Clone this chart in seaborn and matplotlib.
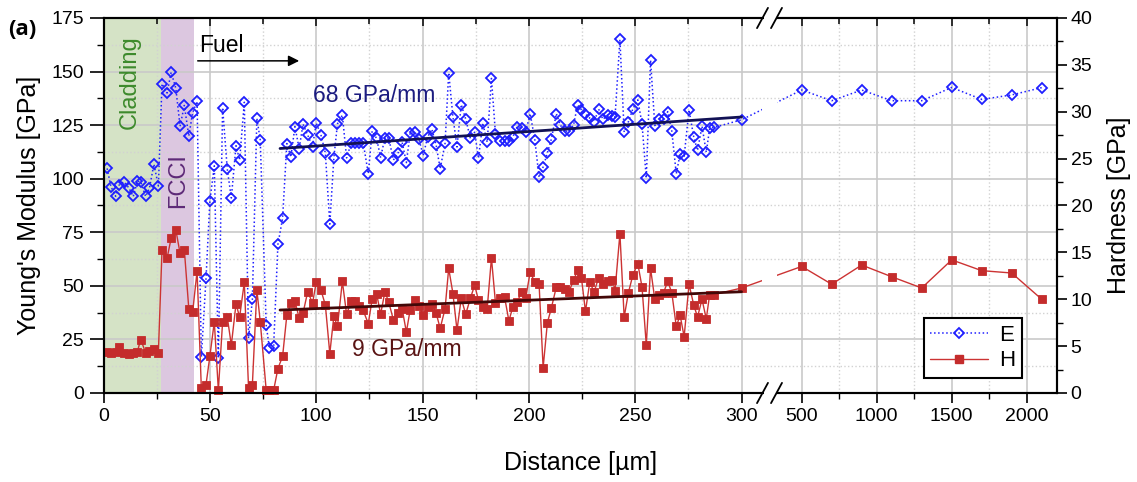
import numpy as np
import pandas as pd
import matplotlib
matplotlib.use("Agg")
import matplotlib.pyplot as plt
import seaborn as sns
from matplotlib.ticker import FixedLocator, MultipleLocator, FuncFormatter
from matplotlib.patches import Rectangle
from matplotlib.lines import Line2D

# ---------------- data ----------------
distance = [
    1.7, 3.5, 5.7, 7.2, 9.6, 12.0, 14.0, 15.9, 17.5, 19.8, 21.6, 23.7, 25.8,
    27.5, 29.9, 31.8, 34.0, 36.0, 38.0, 40.1, 41.9, 44.0,
    46.0, 48.2, 50.0, 52.1, 54.0, 56.0, 58.2, 60.1, 62.3, 64.0,
    66.2, 68.2, 70.0, 72.1, 73.7, 76.5, 78.0, 80.0, 82.0, 84.2,
    86.2, 88.1, 90.0, 92.0, 93.8, 96.0, 98.3, 100.0, 102.2, 104.3,
    106.4, 108.3, 110.0, 112.3, 114.3, 116.5, 118.4, 120.2, 122.1, 124.5,
    126.3, 128.4, 130.3, 132.3, 134.1, 136.3, 138.4, 140.4, 142.4, 144.2,
    146.3, 148.3, 150.3, 152.4, 154.4, 156.4, 158.3, 160.6, 162.3, 164.3,
    166.2, 168.2, 170.3, 172.5, 174.5, 176.3, 178.3, 180.4, 182.4, 184.3,
    186.5, 188.6, 190.6, 192.5, 194.5, 196.6, 198.5, 200.6, 202.8, 204.8,
    206.7, 208.7, 210.6, 212.9, 214.8, 216.8, 218.8, 221.0, 222.9, 224.7,
    226.6, 228.6, 230.7, 232.8, 234.8, 237.0, 239.3, 240.5, 242.8, 244.8,
    246.8, 248.9, 251.2, 253.2, 255.2, 257.2, 259.2, 261.2, 263.3, 265.3,
    267.2, 269.3, 271.1, 273.0, 275.3, 277.5, 279.3, 281.4, 283.4, 285.0,
    287.0, 300.0,
    500, 700, 900, 1100, 1300, 1500, 1700, 1900, 2100,
]

youngs_modulus = [
    104.8, 96.3, 91.8, 96.9, 98.6, 95.6, 91.7, 98.8, 98.6, 91.7, 95.6, 106.8, 96.6,
    144.3, 140.0, 149.7, 142.2, 124.5, 134.2, 119.9, 130.7, 136.1,
    16.8, 53.5, 89.6, 106.0, 16.2, 133.2, 104.4, 91.0, 115.4, 108.7,
    135.7, 25.5, 43.7, 128.2, 118.1, 31.7, 20.9, 22.0, 69.3, 81.5,
    116.4, 110.1, 124.3, 114.0, 125.5, 120.4, 115.0, 126.0, 120.6, 112.0,
    78.8, 109.7, 125.6, 129.7, 109.7, 116.8, 116.8, 116.8, 116.8, 102.3,
    122.2, 118.8, 109.8, 119.2, 119.0, 108.7, 111.8, 117.0, 107.5, 121.4,
    121.9, 118.5, 110.8, 119.5, 123.1, 115.7, 104.6, 116.6, 149.5, 128.8,
    114.8, 134.6, 127.8, 118.8, 121.7, 109.5, 126.0, 117.0, 146.8, 120.8,
    117.5, 117.5, 117.7, 119.6, 124.3, 123.5, 121.9, 130.4, 118.1, 100.6,
    105.5, 112.0, 118.6, 130.4, 125.0, 122.2, 122.2, 125.0, 134.5, 132.2,
    130.1, 128.3, 126.6, 132.5, 127.7, 129.7, 129.3, 128.7, 165.0, 121.7,
    126.6, 132.6, 136.8, 125.6, 100.2, 155.4, 124.8, 128.0, 127.8, 131.3,
    122.2, 102.2, 111.6, 110.5, 132.1, 119.5, 113.2, 124.5, 112.3, 123.5,
    123.9, 127.5,
    141.4, 136.4, 141.4, 136.4, 136.4, 142.6, 137.0, 139.1, 142.5,
]

hardness = [
    4.4, 4.3, 4.4, 4.9, 4.3, 4.2, 4.3, 4.4, 5.7, 4.3, 4.5, 4.7, 4.3,
    15.2, 14.4, 16.5, 17.4, 14.9, 15.3, 9.0, 8.6, 13.0,
    0.5, 0.9, 3.9, 7.6, 0.3, 7.6, 8.1, 5.1, 9.5, 8.1,
    11.8, 0.5, 0.9, 11.0, 7.6, 0.3, 0.3, 0.3, 2.6, 3.9,
    8.3, 9.6, 9.8, 8.0, 8.5, 10.8, 9.6, 11.8, 11.0, 9.4,
    4.2, 8.2, 7.1, 11.9, 8.4, 9.8, 9.8, 9.3, 8.8, 7.4,
    10.0, 10.6, 8.4, 10.8, 9.7, 7.8, 8.5, 9.0, 6.5, 8.9,
    9.9, 9.3, 8.3, 9.2, 9.5, 8.5, 6.9, 9.0, 13.3, 10.6,
    6.7, 10.1, 8.4, 10.1, 11.5, 9.9, 9.2, 9.0, 14.4, 9.6,
    10.1, 10.2, 7.7, 9.2, 9.7, 10.8, 10.1, 12.9, 11.8, 11.6,
    2.7, 7.5, 9.1, 11.3, 11.3, 11.1, 10.8, 12.0, 13.1, 12.3,
    8.7, 11.8, 10.8, 12.3, 11.6, 11.9, 12.1, 10.9, 17.0, 8.1,
    10.7, 12.6, 13.8, 11.3, 5.1, 13.3, 10.0, 10.5, 10.7, 11.9,
    10.7, 7.1, 8.3, 6.0, 11.6, 9.4, 8.1, 10.0, 7.9, 10.5,
    10.5, 11.2,
    13.5, 11.6, 13.65, 12.4, 11.2, 14.2, 13.05, 12.8, 10.0,
]

# linear fits shown in the chart
fit_x = [83, 300]
fit_E = [114.1, 128.8]
fit_H = [8.85, 10.8]

# regions
cladding_span = [0, 27.0]
fcci_span = [27.0, 42.7]

x_major = [0, 50, 100, 150, 200, 250, 300, 500, 1000, 1500, 2000]
x_minor = [25, 75, 125, 175, 225, 275, 750, 1250, 1750]

df = pd.DataFrame({"Distance": distance, "E": youngs_modulus, "H": hardness})

# ---------------- styling ----------------
sns.set_theme(style="ticks")
plt.rcParams["font.family"] = ["Liberation Sans", "DejaVu Sans"]
plt.rcParams["text.color"] = "black"
plt.rcParams["axes.labelcolor"] = "black"
plt.rcParams["xtick.color"] = "black"
plt.rcParams["ytick.color"] = "black"

BLUE = "#1f1fff"
RED = "#cc3333"
E_FIT = "#121255"
H_FIT = "#420808"

fig = plt.figure(figsize=(11.37, 4.82), dpi=100)
ax = fig.add_axes([0.09103, 0.18465, 0.83835, 0.77801])

# broken x axis as a piecewise-linear scale
KX = np.array([0.0, 305.0, 400.0, 2200.0])
KO = np.array([0.0, 648.7, 683.2, 953.2])


def _pw(v, xs, ys):
    v = np.asarray(v, dtype=float)
    out = np.interp(v, xs, ys)
    s0 = (ys[1] - ys[0]) / (xs[1] - xs[0])
    s1 = (ys[-1] - ys[-2]) / (xs[-1] - xs[-2])
    out = np.where(v < xs[0], ys[0] + (v - xs[0]) * s0, out)
    out = np.where(v > xs[-1], ys[-1] + (v - xs[-1]) * s1, out)
    return out


def fwd(v):
    return _pw(v, KX, KO)


def inv(v):
    return _pw(v, KO, KX)


ax.set_xscale("function", functions=(fwd, inv))
ax.set_xlim(0, 2200)
ax.set_ylim(0, 175)
ax.xaxis.set_major_locator(FixedLocator(x_major))
ax.xaxis.set_minor_locator(FixedLocator(x_minor))
ax.xaxis.set_major_formatter(FuncFormatter(lambda v, p: f"{v:g}"))
ax.yaxis.set_major_locator(MultipleLocator(25))
ax.yaxis.set_minor_locator(MultipleLocator(12.5))

ax.set_axisbelow(True)
ax.grid(which="major", color="#c9c9c9", lw=1.2, ls="-")
ax.grid(which="minor", color="#d2d2d2", lw=1.0, ls=":")

ax.axvspan(*cladding_span, color="#d5e3c6", lw=0, zorder=0.1)
ax.axvspan(*fcci_span, color="#dcc7e0", lw=0, zorder=0.1)

ax2 = ax.twinx()
ax2.set_ylim(0, 40)
ax2.yaxis.set_major_locator(MultipleLocator(5))
ax2.yaxis.set_minor_locator(MultipleLocator(2.5))

# clip regions around the axis break
f1, f2 = 0.6908, 0.7066
for target, col, key, kws in [
    (ax, BLUE, "E", dict(linestyle=":", lw=1.1, marker="D", markersize=5.2,
                         markerfacecolor="none", markeredgecolor=BLUE,
                         markeredgewidth=1.3)),
    (ax2, RED, "H", dict(linestyle="-", lw=1.0, marker="s", markersize=5.8,
                         markerfacecolor="#c42c2c", markeredgecolor="#c42c2c",
                         markeredgewidth=0.6)),
]:
    for (c0, c1) in [(0.0, f1), (f2, 1.0)]:
        sns.lineplot(data=df, x="Distance", y=key, ax=target, sort=False,
                     estimator=None, color=col, legend=False, **kws)
        ln = target.lines[-1]
        ln.set_clip_path(Rectangle((c0, -0.05), c1 - c0, 1.1,
                                   transform=target.transAxes))

sns.lineplot(x=fit_x, y=fit_E, ax=ax, color=E_FIT, lw=2.0, legend=False)
sns.lineplot(x=fit_x, y=fit_H, ax=ax2, color=H_FIT, lw=2.0, legend=False)

# annotations
ax.text(12.5, 145, "Cladding", rotation=90, ha="center", va="center",
        fontsize=17, color="#3d8a2c")
ax.text(35.0, 99, "FCCI", rotation=90, ha="center", va="center",
        fontsize=17, color="#5e2a78")
ax.text(44.9, 162, "Fuel", ha="left", va="center", fontsize=16.5, color="black")
ax.annotate("", xy=(92, 155), xytext=(44.3, 155),
            arrowprops=dict(arrowstyle="-|>", color="black", lw=1.1,
                            mutation_scale=16, shrinkA=0, shrinkB=0))
ax.text(98.5, 139, "68 GPa/mm", ha="left", va="center", fontsize=16.5,
        color="#1c1c80")
ax.text(116.8, 20.1, "9 GPa/mm", ha="left", va="center", fontsize=16.5,
        color="#5a1414")

# axes labels
ax.set_xlabel("Distance [\u00b5m]", fontsize=18)
ax.xaxis.set_label_coords(0.5, -0.155)
ax.set_ylabel("Young's Modulus [GPa]", fontsize=18)
ax.yaxis.set_label_coords(-0.066, 0.5)
ax2.set_xlabel("")
ax2.set_ylabel("Hardness [GPa]", fontsize=18)
ax2.yaxis.set_label_coords(1.053, 0.5)

# ticks
ax.tick_params(axis="x", which="major", direction="out", length=7, width=1.2,
               labelsize=14, bottom=True, top=False, pad=4)
ax.tick_params(axis="x", which="minor", direction="out", length=4, width=1.0,
               bottom=True, top=False)
ax.tick_params(axis="y", which="major", direction="out", length=10, width=1.2,
               labelsize=14, left=True, right=False, pad=4)
ax.tick_params(axis="y", which="minor", direction="out", length=5, width=1.0,
               left=True, right=False)
ax2.tick_params(axis="y", which="major", direction="out", length=7, width=1.2,
                labelsize=14, right=True, left=False, pad=3)
ax2.tick_params(axis="y", which="minor", direction="out", length=4, width=1.0,
                right=True, left=False)
ax2.xaxis.set_visible(True)
ax2.tick_params(axis="x", which="both", direction="in", top=True, bottom=False,
                labeltop=False, labelbottom=False, width=1.1)
ax2.tick_params(axis="x", which="major", length=6)
ax2.tick_params(axis="x", which="minor", length=4)

for a in (ax, ax2):
    for s in a.spines.values():
        s.set_color("black")
        s.set_linewidth(1.5)

# axis-break marks
dy = 0.027
for yb in (0.0, 1.0):
    ax2.add_patch(Rectangle((0.6925, yb - 0.01), 0.0135, 0.02,
                            transform=ax2.transAxes, facecolor="white",
                            edgecolor="none", clip_on=False, zorder=10))
    for xa, xb in [(0.6856, 0.6971), (0.7003, 0.7118)]:
        ax2.add_line(Line2D([xa, xb], [yb - dy, yb + dy], color="black",
                            lw=1.3, transform=ax2.transAxes, clip_on=False,
                            zorder=11))

# legend
handles = [
    Line2D([], [], color=BLUE, ls=":", lw=1.1, marker="D", markersize=5.2,
           markerfacecolor="none", markeredgecolor=BLUE, markeredgewidth=1.3),
    Line2D([], [], color=RED, ls="-", lw=1.0, marker="s", markersize=5.8,
           markerfacecolor="#c42c2c", markeredgecolor="#c42c2c"),
]
leg = ax2.legend(handles, ["E", "H"], loc="lower right",
                 bbox_to_anchor=(0.9636, 0.04), fontsize=16, frameon=True,
                 fancybox=False, framealpha=1, edgecolor="black",
                 handlelength=2.6, borderpad=0.3, labelspacing=0.2,
                 handletextpad=0.5, borderaxespad=0)
leg.get_frame().set_linewidth(1.5)

fig.text(0.007, 0.938, "(a)", fontsize=16, fontweight="bold", ha="left",
         va="center", family=["Open Sans", "DejaVu Sans"])

fig.savefig("out.png", dpi=100)
